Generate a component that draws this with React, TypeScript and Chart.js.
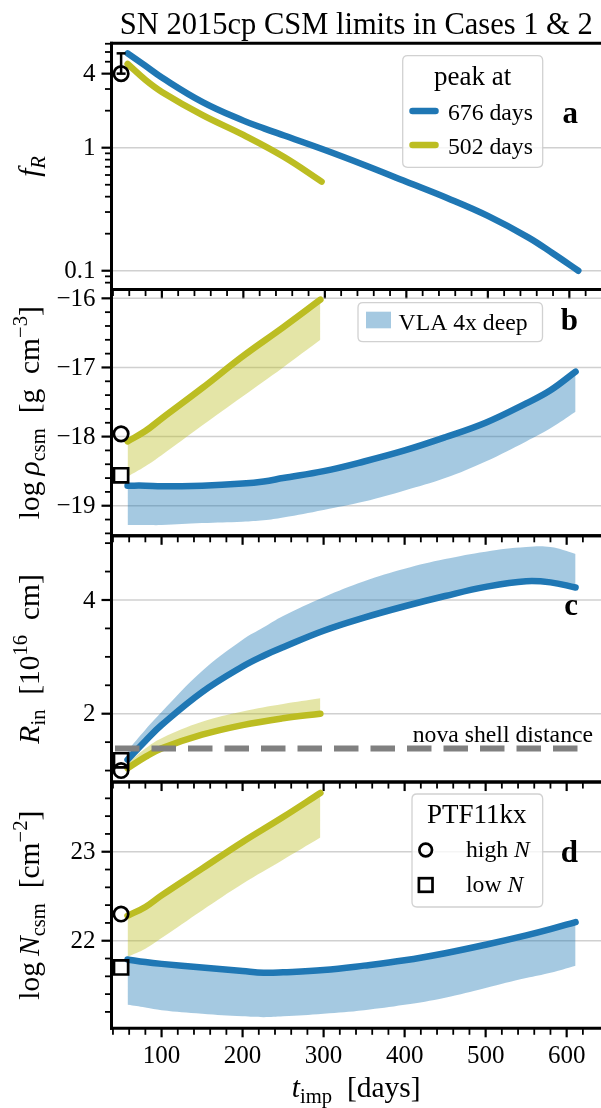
import React, { useEffect, useRef } from 'react';
import { Chart, registerables } from 'chart.js';

Chart.register(...registerables);

// ---------------- data ----------------
// time since impact [days]
const T_LATE = [58, 80, 100, 150, 200, 226, 250, 300, 350, 400, 450, 500, 550, 580, 611];
const T_EARLY = [58, 80, 100, 150, 200, 250, 296];
const T_PTF = 50;

// f_R
const FR_LATE = [5.85, 4.62, 3.72, 2.35, 1.66, 1.43, 1.256, 0.958, 0.717, 0.529, 0.39, 0.279, 0.186, 0.138, 0.1];
const FR_EARLY = [4.79, 3.55, 2.84, 1.84, 1.27, 0.84, 0.53];

// log rho_csm [g cm^-3]
const RHO_LATE = [-18.71, -18.71, -18.72, -18.71, -18.68, -18.65, -18.6, -18.5, -18.36, -18.2, -18.01, -17.8, -17.52, -17.33, -17.06];
const RHO_LATE_DEEP = [-19.28, -19.28, -19.28, -19.25, -19.23, -19.21, -19.17, -19.06, -18.94, -18.78, -18.6, -18.36, -18.07, -17.88, -17.64];
const RHO_EARLY = [-18.07, -17.92, -17.74, -17.3, -16.84, -16.42, -16.02];
const RHO_EARLY_DEEP = [-18.58, -18.43, -18.27, -17.84, -17.42, -17.0, -16.6];

// R_in [1e16 cm]
const RIN_LATE = [1.19, 1.52, 1.8, 2.38, 2.83, 3.02, 3.17, 3.46, 3.69, 3.89, 4.07, 4.23, 4.33, 4.31, 4.22];
const RIN_LATE_DEEP = [1.35, 1.72, 2.03, 2.75, 3.3, 3.52, 3.72, 4.05, 4.33, 4.55, 4.72, 4.85, 4.93, 4.93, 4.81];
const RIN_EARLY = [1.04, 1.24, 1.39, 1.63, 1.8, 1.92, 2.0];
const RIN_EARLY_DEEP = [1.13, 1.39, 1.57, 1.86, 2.04, 2.17, 2.27];

// log N_csm [cm^-2]
const N_LATE = [21.79, 21.76, 21.74, 21.7, 21.66, 21.64, 21.645, 21.67, 21.72, 21.78, 21.86, 21.955, 22.06, 22.13, 22.21];
const N_LATE_DEEP = [21.28, 21.25, 21.22, 21.18, 21.15, 21.14, 21.15, 21.18, 21.22, 21.28, 21.36, 21.47, 21.58, 21.64, 21.72];
const N_EARLY = [22.28, 22.38, 22.51, 22.81, 23.11, 23.39, 23.66];
const N_EARLY_DEEP = [21.82, 21.91, 22.03, 22.34, 22.64, 22.91, 23.16];

// PTF11kx comparison values, panels a..d
const PTF_HIGH = [4, -17.96, 1.0, 22.3];
const PTF_LOW = [null, -18.56, 1.18, 21.7];
const PTF_FR_ERR = [4, 5.85];
const NOVA_SHELL_R = 1.39;

// axes
const T_LIMITS = [38.2, 626.7];
const X_TICKS = [100, 200, 300, 400, 500, 600];
const X_TICK_LABELS = ['100', '200', '300', '400', '500', '600'];

const FR_LIMITS = [0.0703, 7.06];
const FR_TICKS = [0.1, 1, 4];
const FR_TICK_LABELS = ['0.1', '1', '4'];
const FR_GRID = [0.1, 1];
const FR_MINOR = [0.08, 0.09, 0.2, 0.3, 0.4, 0.5, 0.6, 0.7, 0.8, 0.9, 2, 3, 5, 6, 7];

const RHO_LIMITS = [-19.435, -15.873];
const RHO_TICKS = [-19, -18, -17, -16];
const RHO_TICK_LABELS = ['\u221219', '\u221218', '\u221217', '\u221216'];

const RIN_LIMITS = [0.798, 5.129];
const RIN_TICKS = [2, 4];
const RIN_TICK_LABELS = ['2', '4'];
const RIN_MINOR = [1, 1.5, 2.5, 3, 3.5, 4.5, 5];

const N_LIMITS = [21.016, 23.783];
const N_TICKS = [22, 23];
const N_TICK_LABELS = ['22', '23'];

// ---------------- style ----------------
const W = 601;
const H = 1108;
const LEFT = 111.5;
const PANEL_TOP = 43.3;
const PANEL_H = 246.25;

const FONT = '"Liberation Serif", "Times New Roman", serif';
const TICK_SIZE = 25;
const LABEL_SIZE = 29.5;
const TITLE_SIZE = 30.5;
const LEG_SIZE = 23.7;
const LEG_TITLE_SIZE = 27;
const LETTER_SIZE = 31;

const BLUE = '#1f77b4';
const OLIVE = '#bcbd22';
const BLUE_BAND = 'rgba(31,119,180,0.4)';
const OLIVE_BAND = 'rgba(188,189,34,0.4)';
const GRID = 'rgba(176,176,176,0.6)';
const CURVE_TENSION = 0.4;
const CURVE_WIDTH = 6.5;

const font = (size: number, style = '') => `${style ? style + ' ' : ''}${size}px ${FONT}`;

function minorTicks(lo: number, hi: number, step: number, majors: number[]) {
  const out: number[] = [];
  for (let v = lo; v <= hi + 1e-9; v += step) {
    const r = Math.round(v * 1000) / 1000;
    if (!majors.some((m) => Math.abs(m - r) < 1e-6)) out.push(r);
  }
  return out;
}
const X_MINOR = minorTicks(40, 620, 20, X_TICKS);
const RHO_MINOR = minorTicks(-19.4, -15.8, 0.2, RHO_TICKS);
const N_MINOR = minorTicks(21.2, 23.8, 0.2, N_TICKS);

// ---------------- rich text ----------------
type Run = { t: string; it?: boolean; sub?: boolean; sup?: boolean };

function runFont(r: Run, size: number) {
  const s = r.sub || r.sup ? size * 0.7 : size;
  return font(s, r.it ? 'italic' : '');
}
function runsWidth(ctx: CanvasRenderingContext2D, runs: Run[], size: number) {
  let w = 0;
  for (const r of runs) {
    ctx.font = runFont(r, size);
    w += ctx.measureText(r.t).width;
  }
  return w;
}
function drawRuns(ctx: CanvasRenderingContext2D, runs: Run[], size: number, x: number, y: number) {
  ctx.textAlign = 'left';
  ctx.textBaseline = 'alphabetic';
  let cx = x;
  for (const r of runs) {
    ctx.font = runFont(r, size);
    const dy = r.sub ? size * 0.2 : r.sup ? -size * 0.42 : 0;
    ctx.fillText(r.t, cx, y + dy);
    cx += ctx.measureText(r.t).width;
  }
}
function drawRunsCentered(ctx: CanvasRenderingContext2D, runs: Run[], size: number, cx: number, y: number) {
  drawRuns(ctx, runs, size, cx - runsWidth(ctx, runs, size) / 2, y);
}

const LABEL_A: Run[] = [{ t: 'f', it: true }, { t: 'R', it: true, sub: true }];
const LABEL_B: Run[] = [
  { t: 'log\u2009' }, { t: '\u03c1', it: true }, { t: 'csm', sub: true },
  { t: '  [g  cm' }, { t: '\u22123', sup: true }, { t: ']' },
];
const LABEL_C: Run[] = [
  { t: 'R', it: true }, { t: 'in', sub: true }, { t: '  [10' }, { t: '16', sup: true }, { t: '  cm]' },
];
const LABEL_D: Run[] = [
  { t: 'log\u2009' }, { t: 'N', it: true }, { t: 'csm', sub: true },
  { t: '  [cm' }, { t: '\u22122', sup: true }, { t: ']' },
];
const LABEL_X: Run[] = [{ t: 't', it: true }, { t: 'imp', sub: true }, { t: '  [days]' }];

// ---------------- drawing helpers ----------------
function seg(ctx: CanvasRenderingContext2D, x1: number, y1: number, x2: number, y2: number) {
  ctx.beginPath();
  ctx.moveTo(x1, y1);
  ctx.lineTo(x2, y2);
  ctx.stroke();
}

function legendBox(ctx: CanvasRenderingContext2D, x0: number, y0: number, x1: number, y1: number) {
  const r = 5;
  ctx.save();
  ctx.beginPath();
  ctx.moveTo(x0 + r, y0);
  ctx.lineTo(x1 - r, y0);
  ctx.quadraticCurveTo(x1, y0, x1, y0 + r);
  ctx.lineTo(x1, y1 - r);
  ctx.quadraticCurveTo(x1, y1, x1 - r, y1);
  ctx.lineTo(x0 + r, y1);
  ctx.quadraticCurveTo(x0, y1, x0, y1 - r);
  ctx.lineTo(x0, y0 + r);
  ctx.quadraticCurveTo(x0, y0, x0 + r, y0);
  ctx.closePath();
  ctx.fillStyle = 'rgba(255,255,255,0.8)';
  ctx.fill();
  ctx.strokeStyle = 'rgba(204,204,204,0.9)';
  ctx.lineWidth = 1.3;
  ctx.stroke();
  ctx.restore();
}

function legendA(ctx: CanvasRenderingContext2D) {
  legendBox(ctx, 402.7, 55.7, 542.7, 167.3);
  ctx.fillStyle = '#000';
  ctx.font = font(LEG_TITLE_SIZE);
  ctx.textAlign = 'center';
  ctx.textBaseline = 'alphabetic';
  ctx.fillText('peak at', 472.7, 85);
  const rows = [
    { c: BLUE, t: '676 days', y: 120 },
    { c: OLIVE, t: '502 days', y: 154 },
  ];
  for (const r of rows) {
    ctx.strokeStyle = r.c;
    ctx.lineWidth = CURVE_WIDTH;
    ctx.lineCap = 'round';
    seg(ctx, 412.5, r.y - 9, 435.5, r.y - 9);
    ctx.fillStyle = '#000';
    ctx.font = font(LEG_SIZE);
    ctx.textAlign = 'left';
    ctx.fillText(r.t, 448, r.y);
  }
  ctx.lineCap = 'butt';
}

function legendB(ctx: CanvasRenderingContext2D) {
  legendBox(ctx, 358, 302.7, 542.5, 341.7);
  ctx.fillStyle = BLUE_BAND;
  ctx.fillRect(366, 311.7, 25, 16.6);
  ctx.fillStyle = '#000';
  ctx.font = font(LEG_SIZE);
  ctx.textAlign = 'left';
  ctx.textBaseline = 'alphabetic';
  ctx.fillText('VLA 4x deep', 398.6, 329.5);
}

function legendD(ctx: CanvasRenderingContext2D) {
  legendBox(ctx, 412, 794, 542.7, 907);
  ctx.fillStyle = '#000';
  ctx.font = font(LEG_TITLE_SIZE);
  ctx.textAlign = 'center';
  ctx.textBaseline = 'alphabetic';
  ctx.fillText('PTF11kx', 476.7, 823);
  ctx.strokeStyle = '#000';
  ctx.lineWidth = 2.7;
  ctx.beginPath();
  ctx.arc(425.7, 850, 6.3, 0, Math.PI * 2);
  ctx.stroke();
  ctx.strokeRect(425.7 - 6.8, 885 - 6.8, 13.6, 13.6);
  drawRuns(ctx, [{ t: 'high ' }, { t: 'N', it: true }], LEG_SIZE, 466, 857);
  drawRuns(ctx, [{ t: 'low ' }, { t: 'N', it: true }], LEG_SIZE, 466, 892);
}

// ---------------- datasets ----------------
const pts = (xs: number[], ys: number[]) => xs.map((x, i) => ({ x, y: ys[i] }));

const lineDs = (xs: number[], ys: number[], color: string, order: number) => ({
  data: pts(xs, ys),
  borderColor: color,
  borderWidth: CURVE_WIDTH,
  pointRadius: 0,
  fill: false,
  tension: CURVE_TENSION,
  borderCapStyle: 'round',
  borderJoinStyle: 'round',
  order,
});
const bandDs = (xs: number[], ys: number[], color: string, fillNext: boolean, order: number) => ({
  data: pts(xs, ys),
  borderColor: 'rgba(0,0,0,0)',
  borderWidth: 1,
  pointRadius: 0,
  fill: fillNext ? '+1' : false,
  backgroundColor: color,
  tension: CURVE_TENSION,
  order,
});
const markerDs = (y: number, style: string, radius: number) => ({
  data: [{ x: T_PTF, y }],
  showLine: false,
  pointStyle: style,
  pointRadius: radius,
  pointBorderWidth: 2.7,
  pointBorderColor: '#000',
  pointBackgroundColor: 'rgba(0,0,0,0)',
  order: 0,
  clip: false,
});

function ptfMarkers(i: number) {
  const out: any[] = [markerDs(PTF_HIGH[i] as number, 'circle', 7.2)];
  if (PTF_LOW[i] !== null) out.push(markerDs(PTF_LOW[i] as number, 'rect', 10));
  return out;
}

// ---------------- panels ----------------
interface PanelSpec {
  yType: string;
  limits: number[];
  ticks: number[];
  tickLabels: string[];
  grid: number[];
  minor: number[];
  label: Run[];
  letter: string;
  letterDy: number;
  datasets: any[];
  legend: (ctx: CanvasRenderingContext2D) => void;
  extra?: (chart: any) => void;
}

const PANELS: PanelSpec[] = [
  {
    yType: 'logarithmic',
    limits: FR_LIMITS,
    ticks: FR_TICKS,
    tickLabels: FR_TICK_LABELS,
    grid: FR_GRID,
    minor: FR_MINOR,
    label: LABEL_A,
    letter: 'a',
    letterDy: 79.4,
    datasets: [
      lineDs(T_EARLY, FR_EARLY, OLIVE, 1),
      lineDs(T_LATE, FR_LATE, BLUE, 2),
      ...ptfMarkers(0),
    ],
    legend: legendA,
    extra: (chart) => {
      const { ctx } = chart;
      const x = chart.scales.x.getPixelForValue(T_PTF);
      const y0 = chart.scales.y.getPixelForValue(PTF_FR_ERR[0]);
      const y1 = chart.scales.y.getPixelForValue(PTF_FR_ERR[1]);
      ctx.strokeStyle = '#000';
      ctx.lineWidth = 2.5;
      seg(ctx, x, y0, x, y1);
      seg(ctx, x - 4.5, y0, x + 4.5, y0);
      seg(ctx, x - 4.5, y1, x + 4.5, y1);
    },
  },
  {
    yType: 'linear',
    limits: RHO_LIMITS,
    ticks: RHO_TICKS,
    tickLabels: RHO_TICK_LABELS,
    grid: RHO_TICKS,
    minor: RHO_MINOR,
    label: LABEL_B,
    letter: 'b',
    letterDy: 40.5,
    datasets: [
      lineDs(T_EARLY, RHO_EARLY, OLIVE, 1),
      lineDs(T_LATE, RHO_LATE, BLUE, 2),
      bandDs(T_EARLY, RHO_EARLY, OLIVE_BAND, true, 5),
      bandDs(T_EARLY, RHO_EARLY_DEEP, OLIVE_BAND, false, 5),
      bandDs(T_LATE, RHO_LATE, BLUE_BAND, true, 6),
      bandDs(T_LATE, RHO_LATE_DEEP, BLUE_BAND, false, 6),
      ...ptfMarkers(1),
    ],
    legend: legendB,
  },
  {
    yType: 'linear',
    limits: RIN_LIMITS,
    ticks: RIN_TICKS,
    tickLabels: RIN_TICK_LABELS,
    grid: RIN_TICKS,
    minor: RIN_MINOR,
    label: LABEL_C,
    letter: 'c',
    letterDy: 79.2,
    datasets: [
      {
        data: [
          { x: T_LIMITS[0], y: NOVA_SHELL_R },
          { x: T_LIMITS[1], y: NOVA_SHELL_R },
        ],
        borderColor: '#808080',
        borderWidth: 6,
        borderDash: [24.5, 12],
        borderDashOffset: 33,
        pointRadius: 0,
        fill: false,
        order: 0.5,
      },
      lineDs(T_EARLY, RIN_EARLY, OLIVE, 1),
      lineDs(T_LATE, RIN_LATE, BLUE, 2),
      bandDs(T_EARLY, RIN_EARLY_DEEP, OLIVE_BAND, true, 5),
      bandDs(T_EARLY, RIN_EARLY, OLIVE_BAND, false, 5),
      bandDs(T_LATE, RIN_LATE_DEEP, BLUE_BAND, true, 6),
      bandDs(T_LATE, RIN_LATE, BLUE_BAND, false, 6),
      ...ptfMarkers(2),
    ],
    legend: () => {},
    extra: (chart) => {
      const { ctx } = chart;
      const y = chart.scales.y.getPixelForValue(NOVA_SHELL_R);
      ctx.fillStyle = '#000';
      ctx.font = font(LEG_SIZE);
      ctx.textAlign = 'right';
      ctx.textBaseline = 'alphabetic';
      ctx.fillText('nova shell distance', 593, y - 6.5);
    },
  },
  {
    yType: 'linear',
    limits: N_LIMITS,
    ticks: N_TICKS,
    tickLabels: N_TICK_LABELS,
    grid: N_TICKS,
    minor: N_MINOR,
    label: LABEL_D,
    letter: 'd',
    letterDy: 79.6,
    datasets: [
      lineDs(T_EARLY, N_EARLY, OLIVE, 1),
      lineDs(T_LATE, N_LATE, BLUE, 2),
      bandDs(T_EARLY, N_EARLY, OLIVE_BAND, true, 5),
      bandDs(T_EARLY, N_EARLY_DEEP, OLIVE_BAND, false, 5),
      bandDs(T_LATE, N_LATE, BLUE_BAND, true, 6),
      bandDs(T_LATE, N_LATE_DEEP, BLUE_BAND, false, 6),
      ...ptfMarkers(3),
    ],
    legend: legendD,
  },
];

function panelPlugin(p: PanelSpec, idx: number) {
  const top = PANEL_TOP + idx * PANEL_H;
  const bottom = top + PANEL_H;
  const last = idx === PANELS.length - 1;
  return {
    id: 'panelDecor' + idx,
    beforeDatasetsDraw(chart: any) {
      const { ctx } = chart;
      const ys = chart.scales.y;
      ctx.save();
      ctx.strokeStyle = GRID;
      ctx.lineWidth = 1.5;
      for (const v of p.grid) {
        const y = ys.getPixelForValue(v);
        seg(ctx, LEFT, y, W, y);
      }
      ctx.restore();
    },
    afterDatasetsDraw(chart: any) {
      const { ctx } = chart;
      const xs = chart.scales.x;
      const ys = chart.scales.y;
      ctx.save();
      if (p.extra) p.extra(chart);

      // spines
      ctx.strokeStyle = '#000';
      ctx.lineWidth = 3;
      ctx.lineCap = 'butt';
      seg(ctx, LEFT, top - 1.5, LEFT, bottom + 1.5);
      seg(ctx, LEFT - 1.5, top, W, top);
      seg(ctx, LEFT - 1.5, bottom, W, bottom);

      // y ticks
      const inY = (v: number) => {
        const y = ys.getPixelForValue(v);
        return y >= top - 0.5 && y <= bottom + 0.5 ? y : null;
      };
      ctx.lineWidth = 1.8;
      for (const v of p.minor) {
        const y = inY(v);
        if (y !== null) seg(ctx, LEFT, y, LEFT - 6.5, y);
      }
      ctx.lineWidth = 2.2;
      p.ticks.forEach((v, i) => {
        const y = inY(v);
        if (y === null) return;
        seg(ctx, LEFT, y, LEFT - 10, y);
        ctx.fillStyle = '#000';
        ctx.font = font(TICK_SIZE);
        ctx.textAlign = 'right';
        ctx.textBaseline = 'middle';
        ctx.fillText(p.tickLabels[i], LEFT - 16, y + 1);
      });

      // x ticks (outward, below each panel)
      ctx.lineWidth = 1.8;
      for (const v of X_MINOR) {
        const x = xs.getPixelForValue(v);
        if (x > LEFT && x < W) seg(ctx, x, bottom, x, bottom + 6.5);
      }
      ctx.lineWidth = 2.2;
      X_TICKS.forEach((v, i) => {
        const x = xs.getPixelForValue(v);
        seg(ctx, x, bottom, x, bottom + 9);
        if (last) {
          ctx.fillStyle = '#000';
          ctx.font = font(TICK_SIZE);
          ctx.textAlign = 'center';
          ctx.textBaseline = 'alphabetic';
          ctx.fillText(X_TICK_LABELS[i], x, 1063.3);
        }
      });

      // y label
      ctx.fillStyle = '#000';
      ctx.save();
      ctx.translate(39, (top + bottom) / 2);
      ctx.rotate(-Math.PI / 2);
      drawRunsCentered(ctx, p.label, LABEL_SIZE, 0, 0);
      ctx.restore();

      // legend + panel letter
      p.legend(ctx);
      ctx.fillStyle = '#000';
      ctx.font = font(LETTER_SIZE, 'bold');
      ctx.textAlign = 'right';
      ctx.textBaseline = 'alphabetic';
      ctx.fillText(p.letter, 578, top + p.letterDy);

      if (idx === 0) {
        ctx.font = font(TITLE_SIZE);
        ctx.textAlign = 'center';
        ctx.fillText('SN 2015cp CSM limits in Cases 1 & 2', (LEFT + W) / 2, 33.5);
      }
      if (last) {
        drawRunsCentered(ctx, LABEL_X, LABEL_SIZE, (LEFT + W) / 2, 1096.7);
      }
      ctx.restore();
    },
  };
}

function buildConfig(p: PanelSpec, idx: number): any {
  const top = PANEL_TOP + idx * PANEL_H;
  const bottom = top + PANEL_H;
  return {
    type: 'line',
    data: { datasets: p.datasets },
    options: {
      responsive: false,
      maintainAspectRatio: false,
      animation: false,
      devicePixelRatio: 1,
      events: [],
      layout: { padding: { left: LEFT, right: 0, top, bottom: H - bottom } },
      scales: {
        x: { type: 'linear', min: T_LIMITS[0], max: T_LIMITS[1], display: false },
        y: { type: p.yType, min: p.limits[0], max: p.limits[1], display: false },
      },
      plugins: {
        legend: { display: false },
        tooltip: { enabled: false },
        title: { display: false },
      },
    },
    plugins: [panelPlugin(p, idx)],
  };
}

export default function App() {
  const canvases = useRef<(HTMLCanvasElement | null)[]>([]);

  useEffect(() => {
    const charts = PANELS.map((p, i) => new Chart(canvases.current[i] as HTMLCanvasElement, buildConfig(p, i)));
    return () => charts.forEach((c) => c.destroy());
  }, []);

  return (
    <div style={{ position: 'absolute', left: 0, top: 0, width: W, height: H, background: '#fff', overflow: 'hidden' }}>
      {PANELS.map((_, i) => (
        <canvas
          key={i}
          ref={(el) => {
            canvases.current[i] = el;
          }}
          width={W}
          height={H}
          style={{ position: 'absolute', left: 0, top: 0, width: W, height: H }}
        />
      ))}
    </div>
  );
}
